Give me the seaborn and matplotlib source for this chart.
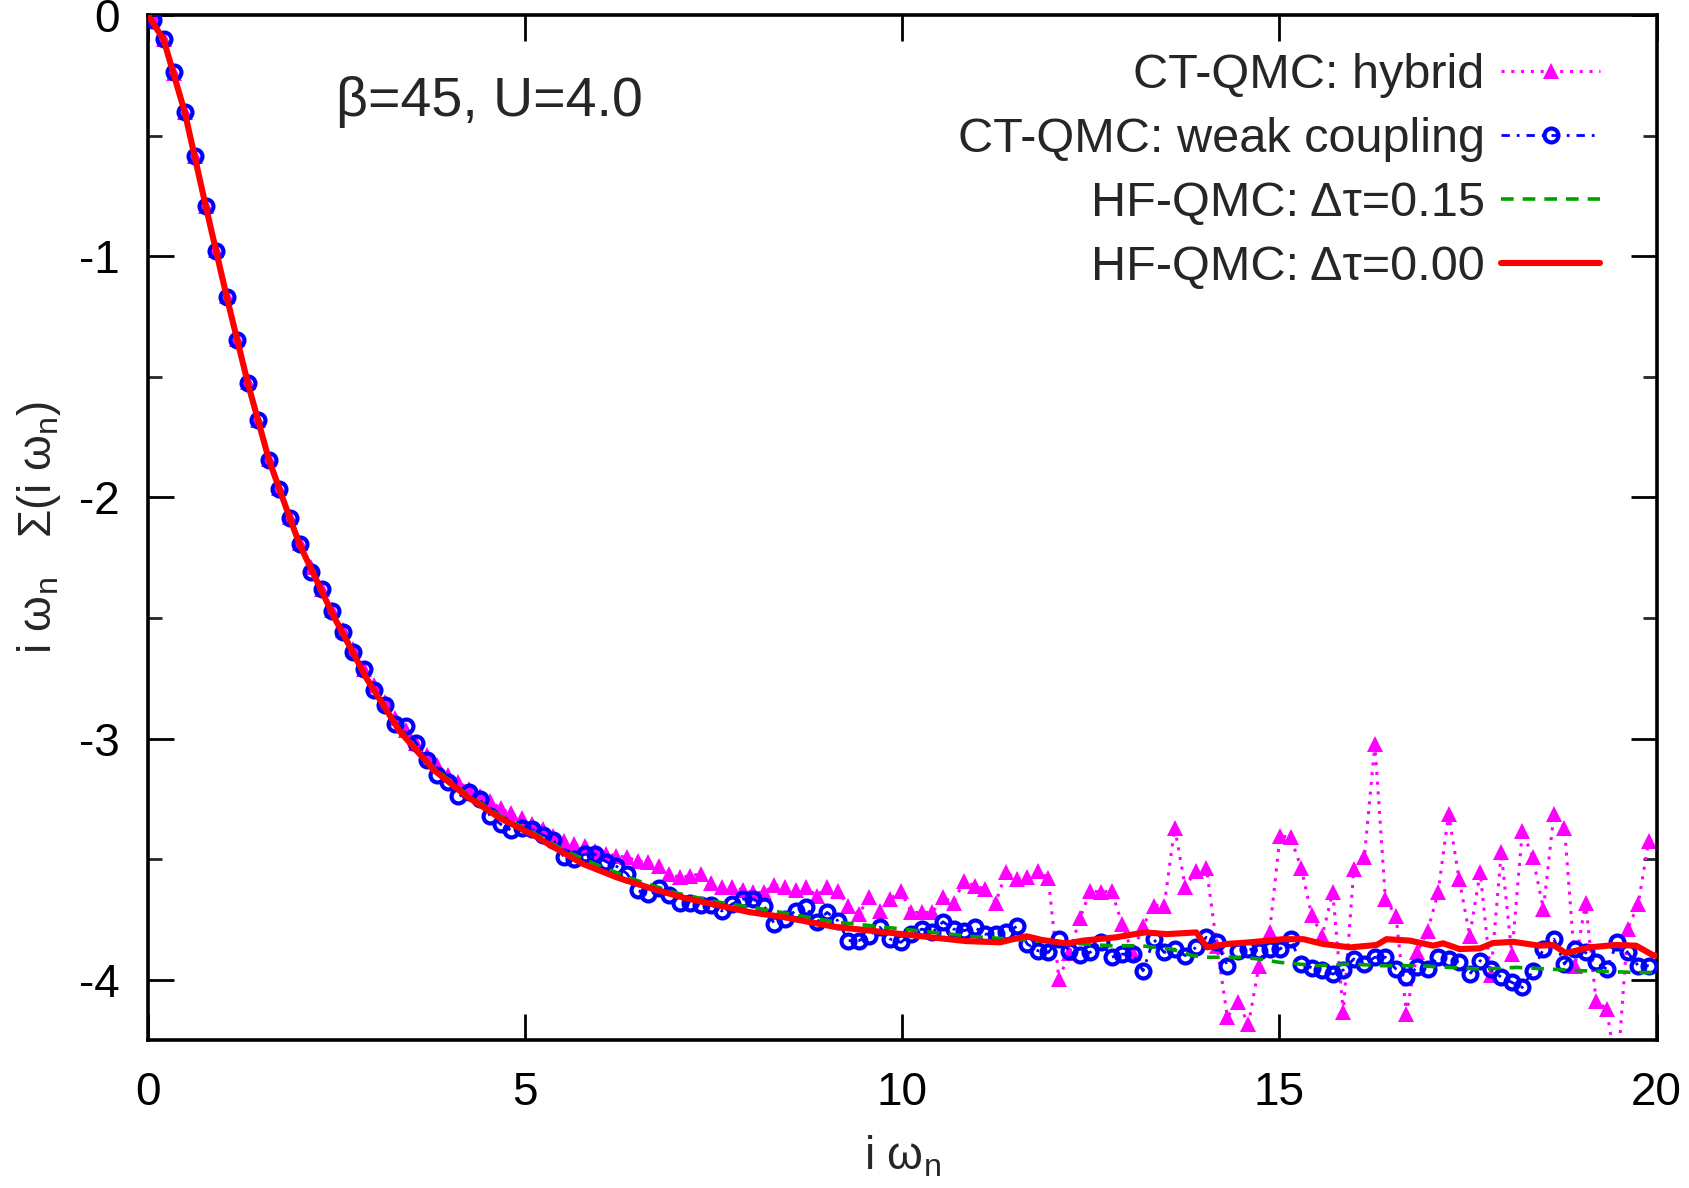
import numpy as np
import matplotlib
matplotlib.use("Agg")
import matplotlib.pyplot as plt
import seaborn as sns

# ---------------- data ----------------
beta = 45.0
n_idx = np.arange(143)
omega_n = (2 * n_idx + 1) * np.pi / beta   # Matsubara frequencies

hybrid = [
    -0.01, -0.10, -0.24, -0.40, -0.585, -0.79, -0.975, -1.165, -1.345, -1.52,
    -1.68, -1.84, -1.96, -2.08, -2.19, -2.29, -2.38, -2.465, -2.55, -2.63,
    -2.71, -2.78, -2.85, -2.915, -2.965, -3.02, -3.07, -3.11, -3.15, -3.18,
    -3.21, -3.24, -3.26, -3.29, -3.31, -3.33, -3.355, -3.375, -3.404, -3.424,
    -3.438, -3.445, -3.466, -3.479, -3.486, -3.493, -3.507, -3.514, -3.528, -3.562,
    -3.576, -3.569, -3.562, -3.600, -3.614, -3.617, -3.628, -3.638, -3.638, -3.607,
    -3.614, -3.628, -3.617, -3.652, -3.617, -3.631, -3.693, -3.728, -3.659, -3.714,
    -3.666, -3.631, -3.721, -3.721, -3.721, -3.659, -3.680, -3.590, -3.610, -3.624,
    -3.680, -3.555, -3.583, -3.576, -3.548, -3.580, -3.997, -3.890, -3.745, -3.631,
    -3.638, -3.631, -3.769, -3.890, -3.776, -3.693, -3.693, -3.369, -3.617, -3.548,
    -3.535, -3.860, -4.156, -4.094, -4.184, -3.942, -3.804, -3.403, -3.410, -3.535,
    -3.732, -3.818, -3.638, -4.135, -3.541, -3.493, -3.024, -3.666, -3.735, -4.142,
    -3.887, -3.800, -3.638, -3.313, -3.583, -3.818, -3.555, -3.980, -3.472, -3.894,
    -3.383, -3.493, -3.707, -3.313, -3.369, -3.942, -3.680, -4.087, -4.121, -4.400,
    -3.790, -3.686, -3.424,
]

weak = [
    -0.02, -0.10, -0.235, -0.40, -0.585, -0.79, -0.977, -1.168, -1.347, -1.525,
    -1.68, -1.843, -1.966, -2.087, -2.193, -2.31, -2.38, -2.47, -2.56, -2.64,
    -2.71, -2.80, -2.86, -2.94, -2.95, -3.02, -3.09, -3.15, -3.18, -3.24,
    -3.22, -3.25, -3.32, -3.355, -3.38, -3.37, -3.375, -3.40, -3.42, -3.49,
    -3.50, -3.48, -3.48, -3.51, -3.53, -3.56, -3.63, -3.645, -3.62, -3.65,
    -3.68, -3.68, -3.69, -3.69, -3.715, -3.686, -3.666, -3.666, -3.693, -3.769,
    -3.749, -3.714, -3.700, -3.762, -3.721, -3.755, -3.838, -3.838, -3.818, -3.783,
    -3.832, -3.845, -3.811, -3.790, -3.804, -3.760, -3.790, -3.797, -3.783, -3.811,
    -3.811, -3.804, -3.779, -3.852, -3.880, -3.887, -3.832, -3.880, -3.897, -3.886,
    -3.845, -3.907, -3.894, -3.894, -3.963, -3.832, -3.887, -3.873, -3.900, -3.866,
    -3.824, -3.845, -3.942, -3.880, -3.873, -3.880, -3.873, -3.873, -3.832, -3.935,
    -3.950, -3.958, -3.977, -3.960, -3.914, -3.935, -3.907, -3.907, -3.956, -3.990,
    -3.949, -3.956, -3.907, -3.914, -3.928, -3.977, -3.921, -3.956, -3.990, -4.011,
    -4.032, -3.963, -3.873, -3.832, -3.935, -3.873, -3.887, -3.928, -3.956, -3.845,
    -3.887, -3.942, -3.942,
]

hf015_x = [0, 0.209, 0.489, 0.768, 1.047, 1.326, 1.606, 1.885, 2.164, 2.443,
           2.723, 3.002, 3.34, 3.79, 4.23, 4.67, 5.11, 5.5, 6.0, 6.5,
           7.0, 7.5, 8.2, 9.1, 10.0, 10.9, 11.8, 12.75, 13.15, 13.57,
           13.84, 14.04, 14.48, 14.72, 15.0, 15.25, 15.49, 15.93, 16.37, 16.82,
           17.26, 17.70, 18.14, 18.58, 19.02, 19.73, 20.0]
hf015_y = [0, -0.10, -0.40, -0.79, -1.168, -1.525, -1.843, -2.087, -2.30, -2.48,
           -2.645, -2.80, -2.96, -3.12, -3.23, -3.32, -3.39, -3.46, -3.53, -3.59,
           -3.64, -3.675, -3.71, -3.76, -3.79, -3.82, -3.84, -3.859, -3.859, -3.873,
           -3.90, -3.907, -3.907, -3.914, -3.928, -3.935, -3.942, -3.935, -3.942, -3.942,
           -3.949, -3.956, -3.949, -3.956, -3.963, -3.97, -3.97]

hf000_x = [0, 0.209, 0.489, 0.768, 1.047, 1.326, 1.606, 1.885, 2.02, 2.46,
           2.90, 3.34, 3.79, 4.23, 4.67, 5.11, 5.38, 5.77, 6.22, 6.66,
           7.10, 7.54, 7.98, 8.42, 9.09, 9.97, 10.85, 11.30, 11.50, 11.65,
           11.85, 12.18, 12.40, 12.84, 13.22, 13.51, 13.90, 14.04, 14.30, 14.61,
           15.05, 15.32, 15.58, 15.94, 16.29, 16.42, 16.73, 17.04, 17.17, 17.39,
           17.66, 17.83, 18.10, 18.45, 18.63, 18.80, 19.11, 19.46, 19.73, 19.95, 20.0]
hf000_y = [0, -0.10, -0.40, -0.79, -1.168, -1.525, -1.843, -2.087, -2.20, -2.49,
           -2.75, -2.97, -3.13, -3.24, -3.33, -3.40, -3.45, -3.52, -3.576, -3.62,
           -3.66, -3.69, -3.72, -3.74, -3.78, -3.81, -3.84, -3.845, -3.83, -3.82,
           -3.835, -3.85, -3.838, -3.824, -3.804, -3.811, -3.804, -3.866, -3.852, -3.845,
           -3.832, -3.832, -3.852, -3.866, -3.856, -3.832, -3.838, -3.859, -3.849, -3.873,
           -3.870, -3.848, -3.843, -3.859, -3.856, -3.89, -3.866, -3.856, -3.859, -3.898, -3.90]

labels = ["CT-QMC: hybrid", "CT-QMC: weak coupling",
          "HF-QMC: \u0394\u03c4=0.15", "HF-QMC: \u0394\u03c4=0.00"]
x_ticks = [0, 5, 10, 15, 20]
y_ticks = [0, -1, -2, -3, -4]

# ---------------- style ----------------
sns.set_theme(style="ticks")
plt.rcParams["font.family"] = ["Liberation Sans", "DejaVu Sans"]
plt.rcParams["mathtext.default"] = "regular"
FS = 33
LFS = 35

fig = plt.figure(figsize=(16.9, 11.88), dpi=100)
ax = fig.add_axes([0.0874, 0.1246, 0.8928, 0.8627])

sns.lineplot(x=omega_n, y=hybrid, ax=ax, color="#ff00ff", linestyle=(0, (1, 2.2)),
             linewidth=2.2, marker="^", markersize=12, markeredgewidth=0,
             label=labels[0], estimator=None, sort=False, zorder=2)
sns.lineplot(x=omega_n, y=weak, ax=ax, color="#0000ff", linestyle=(0, (3, 2.5, 1, 2.5)),
             linewidth=2.0, marker="o", markersize=10, markerfacecolor="none",
             markeredgecolor="#0000ff", markeredgewidth=3.0,
             label=labels[1], estimator=None, sort=False, zorder=3)
sns.lineplot(x=hf015_x, y=hf015_y, ax=ax, color="#00a000", linestyle=(0, (3.5, 2.5)),
             linewidth=2.6, label=labels[2], estimator=None, sort=False, zorder=4)
sns.lineplot(x=hf000_x, y=hf000_y, ax=ax, color="#ff0000", linestyle="-",
             linewidth=4.4, label=labels[3], estimator=None, sort=False, zorder=5)

ax.set_xlim(0, 20)
ax.set_ylim(-4.25, 0)
ax.set_xticks(x_ticks)
ax.set_xticklabels([str(t) for t in x_ticks])
ax.set_yticks(y_ticks)
ax.set_yticklabels([str(t) for t in y_ticks])
ax.set_yticks([-0.5, -1.5, -2.5, -3.5], minor=True)

for sp in ax.spines.values():
    sp.set_visible(True)
    sp.set_linewidth(2.6)
    sp.set_color("black")

ax.tick_params(axis="both", which="major", direction="in", length=19, width=2,
               top=True, right=True, labelsize=FS, colors="black")
ax.tick_params(axis="y", which="minor", direction="in", length=10, width=2,
               left=True, right=True)
ax.tick_params(axis="y", which="major", pad=20)
ax.tick_params(axis="x", which="major", pad=22)

ax.set_xlabel("i \u03c9$_n$", fontsize=FS, labelpad=14)
ax.set_ylabel("i \u03c9$_n$   \u03a3(i \u03c9$_n$)", fontsize=FS, labelpad=12)

ax.text(2.5, -0.36, "\u03b2=45, U=4.0", fontsize=40, ha="left", va="center")

leg = ax.legend(loc="upper right", bbox_to_anchor=(1 - 0.0243, 1 - 0.0185),
                markerfirst=False, frameon=False, fontsize=LFS,
                handlelength=2.05, handletextpad=0.33, labelspacing=0.39,
                borderaxespad=0.0, numpoints=1)
for t in leg.get_texts():
    t.set_ha("right")

fig.savefig("out.png", dpi=100)
